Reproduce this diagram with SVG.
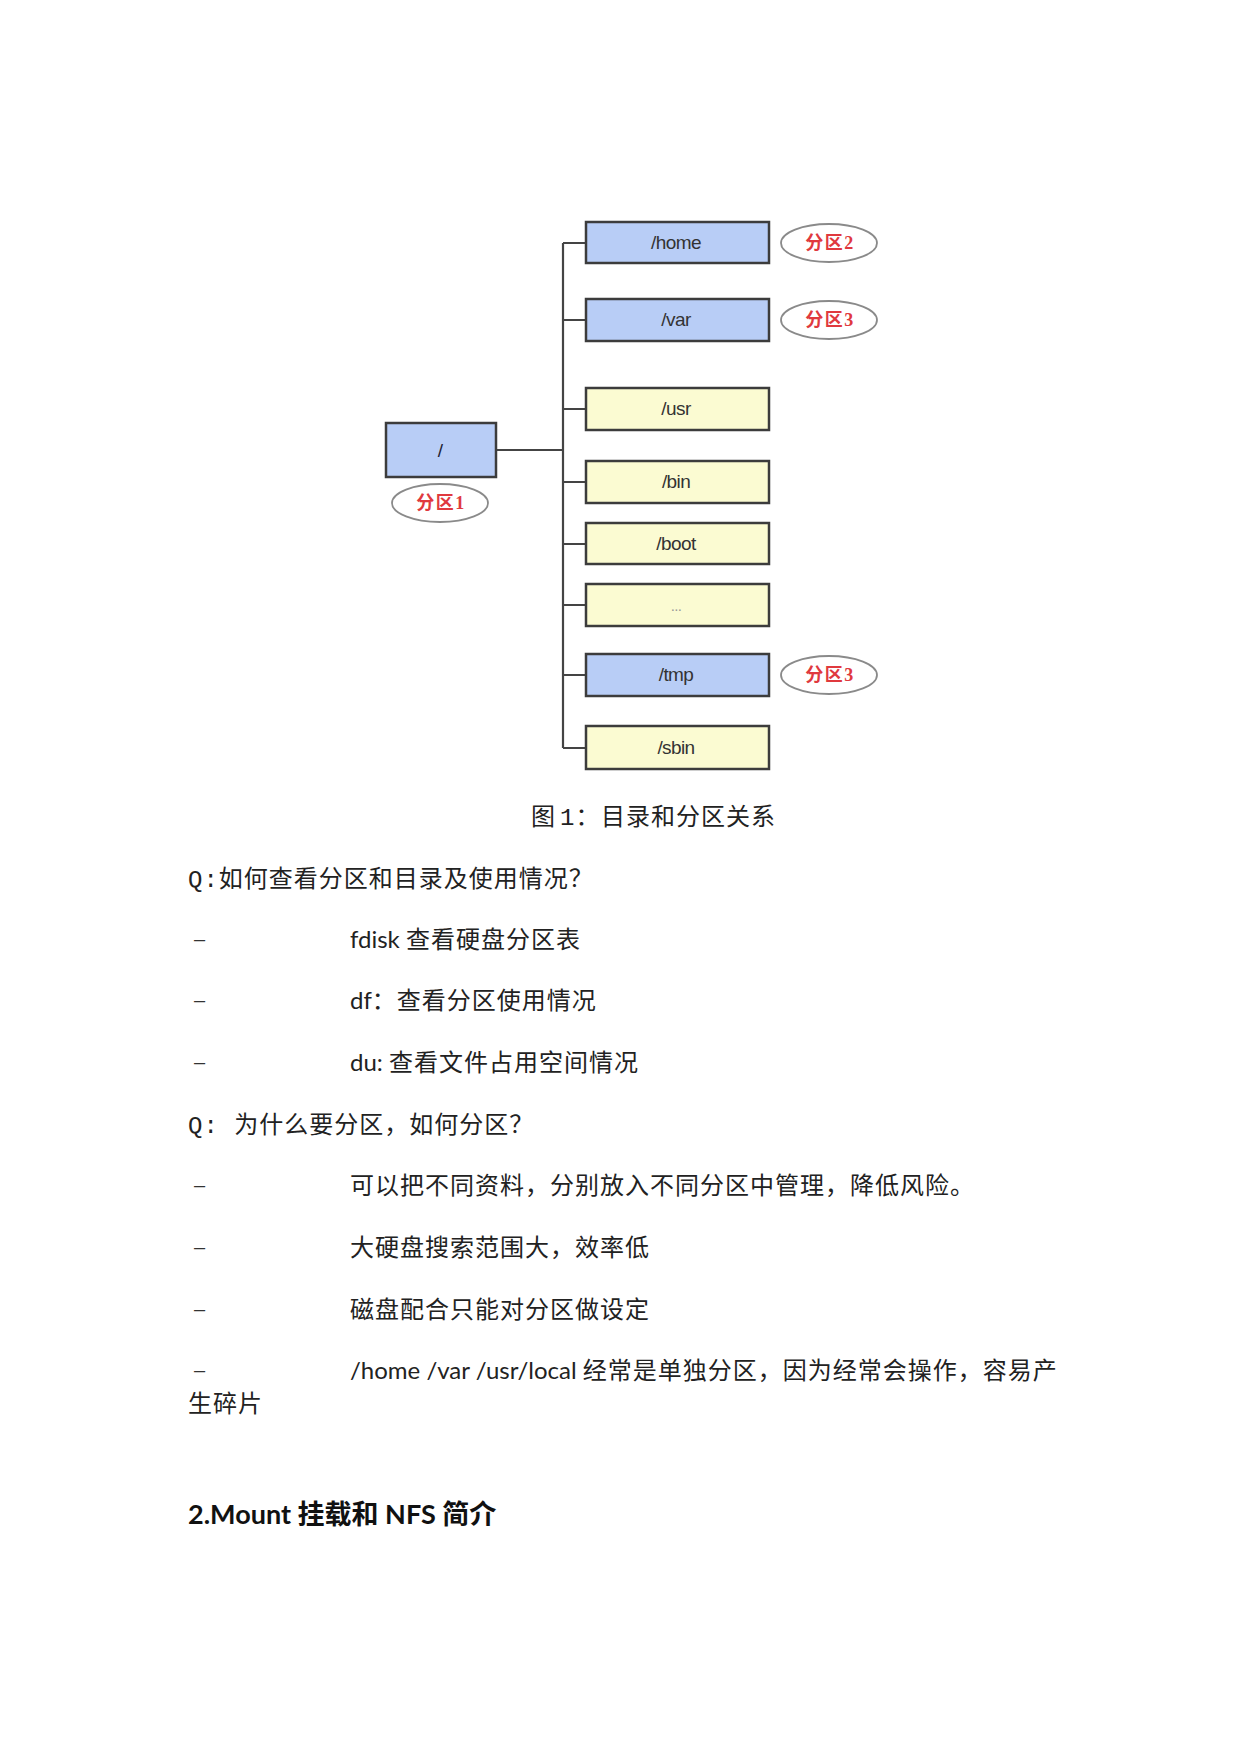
<svg xmlns="http://www.w3.org/2000/svg" width="1241" height="1754" viewBox="0 0 1241 1754">
<style>
.box{stroke:#3c3c3c;stroke-width:2.5}
.blue{fill:#b8cdf6}
.yel{fill:#fbfbd2}
.lbl{font-family:"Liberation Sans",Arial,sans-serif;font-size:19px;fill:#333;text-anchor:middle;letter-spacing:-0.6px}
.ell{fill:#fff;stroke:#8a8a8a;stroke-width:1.8}
.red{font-family:"Liberation Serif","Noto Sans CJK SC",serif;font-size:18px;font-weight:bold;fill:#e0393e;text-anchor:middle;letter-spacing:1.5px}
.conn{stroke:#444;stroke-width:2.2;fill:none}
.body{font-family:"Liberation Mono","Noto Sans CJK SC",monospace;font-size:24px;fill:#222;letter-spacing:1px}
.lat{font-family:Lato,"Liberation Sans","Noto Sans CJK SC",sans-serif;letter-spacing:0}
.dash{font-family:"Liberation Sans",sans-serif;font-size:20px;fill:#333}
.h{font-family:Lato,"Liberation Sans","Noto Sans CJK SC",sans-serif;font-size:27px;font-weight:bold;fill:#111}
</style>
<rect width="1241" height="1754" fill="#fff"/>
<g id="connectors">
<path class="conn" d="M496 450H563M563 243V748M563 243H586M563 320H586M563 409H586M563 482H586M563 544H586M563 605H586M563 675H586M563 748H586"/>
</g>
<g id="root"><rect class="box blue" x="386" y="423" width="110" height="54"/><text class="lbl" x="440" y="457" style="fill:#223">/</text></g>
<g id="p1"><ellipse class="ell" cx="440" cy="503" rx="48" ry="19"/><text class="red" x="441" y="509">分区1</text></g>
<g id="home"><rect class="box blue" x="586" y="222" width="183" height="41"/><text class="lbl" x="676" y="249">/home</text></g>
<g id="p2"><ellipse class="ell" cx="829" cy="243" rx="48" ry="19"/><text class="red" x="830" y="249">分区2</text></g>
<g id="var"><rect class="box blue" x="586" y="299" width="183" height="42"/><text class="lbl" x="676" y="326">/var</text></g>
<g id="p3a"><ellipse class="ell" cx="829" cy="320" rx="48" ry="19"/><text class="red" x="830" y="326">分区3</text></g>
<g id="usr"><rect class="box yel" x="586" y="388" width="183" height="42"/><text class="lbl" x="676" y="415">/usr</text></g>
<g id="bin"><rect class="box yel" x="586" y="461" width="183" height="42"/><text class="lbl" x="676" y="488">/bin</text></g>
<g id="boot"><rect class="box yel" x="586" y="523" width="183" height="41"/><text class="lbl" x="676" y="550">/boot</text></g>
<g id="more"><rect class="box yel" x="586" y="584" width="183" height="42"/><text class="lbl" x="676" y="611" style="fill:#999;font-size:15px">...</text></g>
<g id="tmp"><rect class="box blue" x="586" y="654" width="183" height="42"/><text class="lbl" x="676" y="681">/tmp</text></g>
<g id="p3b"><ellipse class="ell" cx="829" cy="675" rx="48" ry="19"/><text class="red" x="830" y="681">分区3</text></g>
<g id="sbin"><rect class="box yel" x="586" y="726" width="183" height="43"/><text class="lbl" x="676" y="754">/sbin</text></g>

<text class="body" y="825"><tspan x="531">图</tspan><tspan x="560">1：</tspan><tspan x="601">目录和分区关系</tspan></text>
<text class="body" x="188" y="887">Q:如何查看分区和目录及使用情况？</text>
<text class="dash" x="194" y="946">–</text>
<text class="body" x="350" y="948"><tspan class="lat">fdisk </tspan>查看硬盘分区表</text>
<text class="dash" x="194" y="1007">–</text>
<text class="body" x="350" y="1009"><tspan class="lat">df</tspan>：查看分区使用情况</text>
<text class="dash" x="194" y="1069">–</text>
<text class="body" x="350" y="1071"><tspan class="lat">du: </tspan>查看文件占用空间情况</text>
<text class="body" x="188" y="1133">Q:  为什么要分区，如何分区？</text>
<text class="dash" x="194" y="1192">–</text>
<text class="body" x="350" y="1194">可以把不同资料，分别放入不同分区中管理，降低风险。</text>
<text class="dash" x="194" y="1254">–</text>
<text class="body" x="350" y="1256">大硬盘搜索范围大，效率低</text>
<text class="dash" x="194" y="1316">–</text>
<text class="body" x="350" y="1318">磁盘配合只能对分区做设定</text>
<text class="dash" x="194" y="1377">–</text>
<text class="body" x="350" y="1379"><tspan class="lat">/home /var /usr/local </tspan>经常是单独分区，因为经常会操作，容易产</text>
<text class="body" x="188" y="1412">生碎片</text>
<text class="h" x="188" y="1524">2.Mount 挂载和 NFS 简介</text>
</svg>
